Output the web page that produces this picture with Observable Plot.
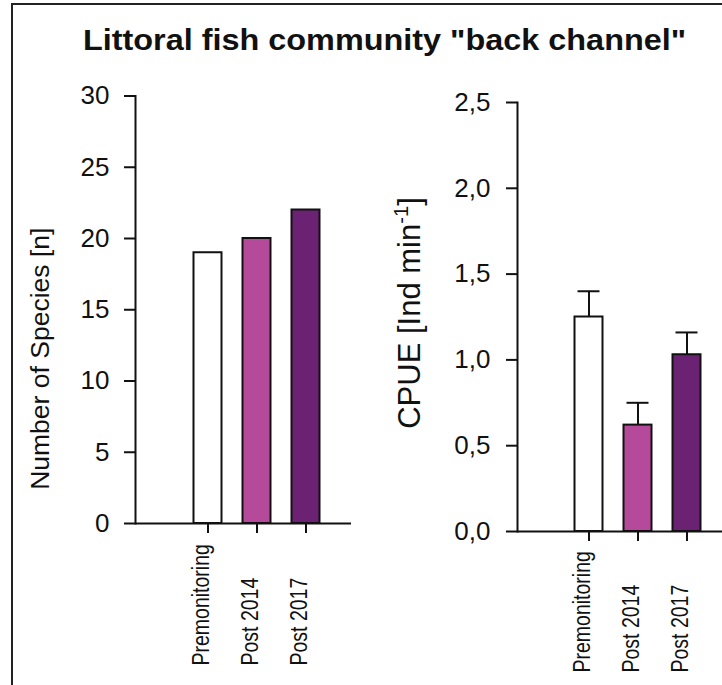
<!DOCTYPE html>
<html>
<head>
<meta charset="utf-8">
<script src="https://cdn.jsdelivr.net/npm/d3@7"></script>
<script src="https://cdn.jsdelivr.net/npm/@observablehq/plot@0.6"></script>
<style>
  html, body { margin: 0; padding: 0; background: #fff; }
  #wrap { position: relative; width: 722px; height: 685px; overflow: hidden; background: #fff;
          font-family: "Liberation Sans", Arial, sans-serif; color: #111; }
  #frame { position: absolute; left: 11px; top: 3px; width: 760px; height: 760px;
           border-left: 2px solid #222; border-top: 2px solid #222; }
  #title { position: absolute; left: 0; width: 769px; top: 25px; text-align: center;
           font-weight: bold; font-size: 30px; line-height: 30px; white-space: nowrap;
           transform: scaleX(1.08); transform-origin: 384.5px 0; }
  .panel { position: absolute; top: 0; }
</style>
</head>
<body>
<div id="wrap">
  <div id="frame"></div>
  <div id="title">Littoral fish community "back channel"</div>
  <div id="left" class="panel" style="left:0px"></div>
  <div id="right" class="panel" style="left:361px"></div>
</div>
<script>
// ---- data ----
const categories = ["Premonitoring", "Post 2014", "Post 2017"];
const speciesCounts = [19, 20, 22];
const cpueMeans = [1.25, 0.62, 1.03];
const cpueErrors = [0.15, 0.13, 0.13];
const barColors = ["#ffffff", "#b54a9b", "#6c2273"];
const speciesTicks = [0, 5, 10, 15, 20, 25, 30];
const cpueTicks = [0, 0.5, 1.0, 1.5, 2.0, 2.5];
const speciesLabel = "Number of Species [n]";
const cpueLabel = "CPUE [Ind min-1]";

const speciesData = categories.map((c, i) => ({cat: c, value: speciesCounts[i]}));
const cpueData = categories.map((c, i) => ({cat: c, value: cpueMeans[i], err: cpueErrors[i]}));

const ink = "#111";
const font = "'Liberation Sans', Arial, sans-serif";

// ---- left panel ----
const left = Plot.plot({
  width: 360, height: 685,
  marginLeft: 135, marginRight: 9, marginTop: 95.5, marginBottom: 162,
  style: {fontFamily: font, background: "transparent", color: ink, overflow: "visible"},
  x: {type: "band", domain: categories, range: [182.5, 329.5], padding: 0},
  y: {domain: [0, 30]},
  color: {domain: categories, range: barColors},
  marks: [
    Plot.barY(speciesData, {x: "cat", y: "value", fill: "cat", stroke: ink, strokeWidth: 2, insetLeft: 10.5, insetRight: 10.5}),
    Plot.ruleY([0], {stroke: ink, strokeWidth: 2}),
    Plot.frame({anchor: "left", stroke: ink, strokeWidth: 2}),
    Plot.axisY({ticks: speciesTicks, tickSize: 11, tickPadding: 15, fontSize: 26, label: null, strokeWidth: 2}),
    Plot.axisX({tickSize: 10, tickFormat: () => "", label: null, strokeWidth: 2}),
    Plot.text(categories, {x: d => d, frameAnchor: "bottom", rotate: -90, textAnchor: "start", dy: 142, dx: 1, fontSize: 19.5, fill: ink}),
    Plot.text([speciesLabel], {frameAnchor: "left", textAnchor: "middle", rotate: -90, dx: -95, dy: 49, fontSize: 26.5, fill: ink})
  ]
});
document.getElementById("left").appendChild(left);

// ---- right panel ----
const right = Plot.plot({
  width: 361, height: 685,
  marginLeft: 156, marginRight: 0, marginTop: 102, marginBottom: 154,
  style: {fontFamily: font, background: "transparent", color: ink, overflow: "visible"},
  x: {type: "band", domain: categories, range: [202.8, 349.8], padding: 0},
  y: {domain: [0, 2.5]},
  color: {domain: categories, range: barColors},
  marks: [
    Plot.ruleX(cpueData, {x: "cat", y1: "value", y2: d => d.value + d.err, stroke: ink, strokeWidth: 2}),
    Plot.tickY(cpueData, {x: "cat", y: d => d.value + d.err, stroke: ink, strokeWidth: 2, insetLeft: 13.5, insetRight: 13.5}),
    Plot.barY(cpueData, {x: "cat", y: "value", fill: "cat", stroke: ink, strokeWidth: 2, insetLeft: 10.5, insetRight: 10.5}),
    Plot.ruleY([0], {stroke: ink, strokeWidth: 2}),
    Plot.frame({anchor: "left", stroke: ink, strokeWidth: 2}),
    Plot.axisY({ticks: cpueTicks, tickSize: 11, tickPadding: 16, fontSize: 26, label: null, strokeWidth: 2,
                tickFormat: d => d.toFixed(1).replace(".", ",")}),
    Plot.axisX({tickSize: 10, tickFormat: () => "", label: null, strokeWidth: 2}),
    Plot.text(categories, {x: d => d, frameAnchor: "bottom", rotate: -90, textAnchor: "start", dy: 141, dx: 1, fontSize: 19.5, fill: ink}),
    Plot.text([cpueLabel], {frameAnchor: "left", textAnchor: "middle", rotate: -90, dx: -107, dy: -4, fontSize: 31, fill: ink})
  ]
});
document.getElementById("right").appendChild(right);

// superscript for the CPUE unit
d3.select(right).selectAll("text").filter(function() { return this.textContent === cpueLabel; })
  .each(function() {
    const t = d3.select(this);
    t.text(null);
    t.append("tspan").text("CPUE [Ind min");
    t.append("tspan").attr("font-size", "0.65em").attr("dy", "-0.6em").text("-1");
    t.append("tspan").attr("dy", "0.39em").text("]");
  });

// category labels in the reference are drawn with wider glyphs
[left, right].forEach(svg => {
  d3.select(svg).selectAll("text")
    .filter(function() { return categories.includes(this.textContent); })
    .attr("transform", function() { const tr = this.getAttribute("transform") || ""; return tr + " scale(1,1.18)"; });
});
</script>
</body>
</html>
